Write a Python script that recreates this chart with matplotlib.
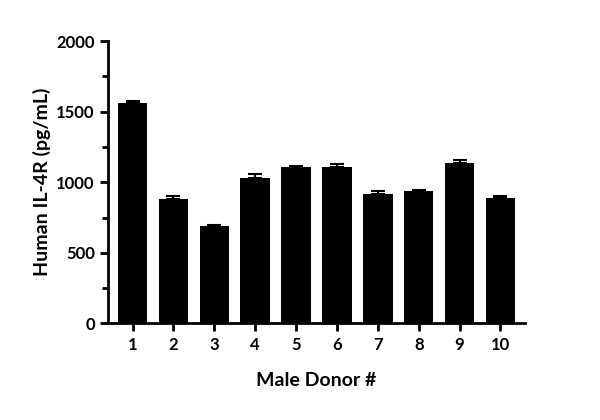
import matplotlib
matplotlib.use("Agg")
import matplotlib.pyplot as plt
from matplotlib.ticker import MultipleLocator

donors = ["1","2","3","4","5","6","7","8","9","10"]
values = [1565, 885, 690, 1030, 1110, 1110, 920, 935, 1135, 890]
errors = [8, 15, 6, 30, 8, 20, 15, 12, 20, 12]

plt.rcParams['font.family'] = ['Lato', 'DejaVu Sans']
plt.rcParams['font.weight'] = 'bold'
fig = plt.figure(figsize=(6, 4.2), dpi=100)
ax = fig.add_axes([0.18, 0.23, 0.695, 0.672])
x = range(len(donors))
ax.bar(x, values, width=0.72, color='black')
ax.errorbar(x, values, yerr=[[0]*len(errors), errors], fmt='none', ecolor='black', capsize=5, elinewidth=1.5, capthick=1.5)
ax.set_ylim(0, 2000)
ax.set_xlim(-0.6, len(donors)-0.4)
ax.yaxis.set_major_locator(MultipleLocator(500))
ax.yaxis.set_minor_locator(MultipleLocator(250))
ax.set_xticks(list(x))
ax.set_xticklabels(donors)
for s in ['top', 'right']:
    ax.spines[s].set_visible(False)
for s in ['left', 'bottom']:
    ax.spines[s].set_linewidth(2)
ax.tick_params(axis='both', which='major', width=2, length=6, labelsize=12)
ax.tick_params(axis='y', which='minor', width=2, length=4)
for lab in ax.get_xticklabels() + ax.get_yticklabels():
    lab.set_fontweight('bold')
ax.set_ylabel('Human IL-4R (pg/mL)', fontsize=14, fontweight='bold')
ax.set_xlabel('Male Donor #', fontsize=14, fontweight='bold', labelpad=14)
fig.savefig('out.png')
